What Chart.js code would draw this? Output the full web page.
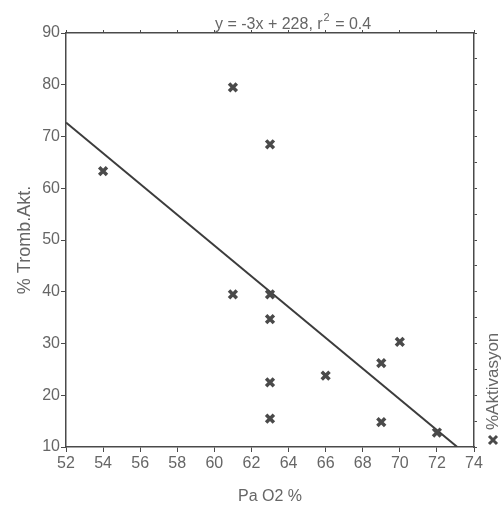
<!DOCTYPE html>
<html>
<head>
<meta charset="utf-8">
<script src="https://cdn.jsdelivr.net/npm/chart.js@4"></script>
<style>
  html, body { margin: 0; padding: 0; background: #fff; }
  #wrap { width: 501px; height: 510px; position: relative; }
</style>
</head>
<body>
<div id="wrap"><canvas id="chart"></canvas></div>
<script>
// Data
const paO2   = [54, 61, 63, 61, 63, 63, 63, 63, 66, 69, 70, 69, 72];
const tromb  = [63.3, 79.5, 68.5, 39.5, 39.5, 34.7, 22.5, 15.5, 23.8, 26.2, 30.3, 14.8, 12.8];
const fitX   = [52, 73.1];
const fitY   = [72.7, 10];
const X_MIN = 52, X_MAX = 74, X_STEP = 2;
const Y_MIN = 10, Y_MAX = 90, Y_STEP = 10;

const TITLE  = ['y = -3x + 228, r', '2', ' = 0.4'];
const LEGEND = '%Aktivasyon';

const INK   = '#4a4a4a';
const TEXT  = '#666';
const FONT  = "'Liberation Sans', Arial, sans-serif";

// Title with superscript + rotated legend on the right
const decor = {
  id: 'decor',
  afterDraw(chart) {
    const c = chart.ctx;
    c.save();
    c.fillStyle = TEXT;
    c.textBaseline = 'alphabetic';
    c.font = `16px ${FONT}`;
    let x = 215, y = 29;
    c.fillText(TITLE[0], x, y);
    x += c.measureText(TITLE[0]).width;
    c.font = `11px ${FONT}`;
    c.fillText(TITLE[1], x + 1, y - 8);
    x += c.measureText(TITLE[1]).width + 2;
    c.font = `16px ${FONT}`;
    c.fillText(TITLE[2], x, y);

    // legend: marker + rotated label
    const lx = 493, ly = 440;
    c.strokeStyle = INK;
    c.lineWidth = 3;
    c.beginPath();
    c.moveTo(lx - 4, ly - 4); c.lineTo(lx + 4, ly + 4);
    c.moveTo(lx + 4, ly - 4); c.lineTo(lx - 4, ly + 4);
    c.stroke();
    c.translate(lx, ly - 10);
    c.rotate(-Math.PI / 2);
    c.font = `17px ${FONT}`;
    c.textBaseline = 'middle';
    c.textAlign = 'left';
    c.fillText(LEGEND, 0, 0);
    c.restore();
  }
};

const axisGrid = { display: true, drawOnChartArea: false, drawTicks: true, tickLength: 5, color: INK, lineWidth: 1 };
const axisBorder = { display: true, color: INK, width: 1.5 };

new Chart(document.getElementById('chart'), {
  type: 'scatter',
  data: {
    datasets: [
      {
        label: LEGEND,
        data: paO2.map((v, i) => ({ x: v, y: tromb[i] })),
        pointStyle: 'crossRot',
        pointRadius: 5.5,
        pointBorderWidth: 3.5,
        borderColor: INK,
        backgroundColor: INK,
      },
      {
        type: 'line',
        label: 'fit',
        data: fitX.map((v, i) => ({ x: v, y: fitY[i] })),
        borderColor: '#3c3c3c',
        borderWidth: 2,
        pointRadius: 0,
        fill: false,
      },
    ],
  },
  options: {
    animation: false,
    responsive: true,
    maintainAspectRatio: false,
    layout: { padding: 0 },
    plugins: { legend: { display: false }, tooltip: { enabled: false }, title: { display: false } },
    scales: {
      x: {
        type: 'linear', position: 'bottom', min: X_MIN, max: X_MAX,
        ticks: { stepSize: X_STEP, color: TEXT, font: { family: FONT, size: 16 }, padding: 2, maxRotation: 0 },
        grid: axisGrid, border: axisBorder,
        title: { display: true, text: 'Pa O2 %', color: TEXT, font: { family: FONT, size: 16 }, padding: { top: 0, bottom: 4 } },
        afterFit: s => { s.height = 63; },
      },
      y: {
        type: 'linear', position: 'left', min: Y_MIN, max: Y_MAX,
        ticks: { stepSize: Y_STEP, color: TEXT, font: { family: FONT, size: 16 }, padding: 1 },
        grid: axisGrid, border: axisBorder,
        title: { display: true, text: '% Tromb.Akt.', color: TEXT, font: { family: FONT, size: 18 }, padding: { top: 14, bottom: 0 } },
        afterFit: s => { s.width = 66; },
      },
      x2: {
        type: 'linear', position: 'top', min: X_MIN, max: X_MAX,
        ticks: { stepSize: X_STEP, display: false },
        grid: { ...axisGrid, tickLength: 3 }, border: axisBorder,
        afterFit: s => { s.height = 33; },
      },
      y2: {
        type: 'linear', position: 'right', min: Y_MIN, max: Y_MAX,
        ticks: { stepSize: 5, display: false },
        grid: { ...axisGrid, tickLength: 3 }, border: axisBorder,
        afterFit: s => { s.width = 27; },
      },
    },
  },
  plugins: [decor],
});
</script>
</body>
</html>
